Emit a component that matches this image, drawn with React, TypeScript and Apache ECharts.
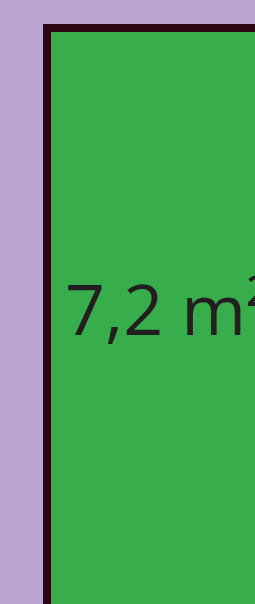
import React, { useEffect, useRef } from "react";
import * as echarts from "echarts";

const rooms: string[] = ["7,2 m²"];
const areas: number[] = [7.2];

export default function App() {
  const ref = useRef<HTMLDivElement>(null);
  useEffect(() => {
    if (!ref.current) return;
    const chart = echarts.init(ref.current, null, { renderer: "svg" });
    chart.setOption({
      animation: false,
      backgroundColor: "#b9a5cf",
      series: [
        {
          type: "treemap",
          left: 43,
          top: 24,
          width: 250,
          height: 700,
          roam: false,
          nodeClick: false,
          breadcrumb: { show: false },
          levels: [{ itemStyle: { borderWidth: 0, gapWidth: 0 } }],
          data: rooms.map((name, i) => ({
            name,
            value: areas[i],
            itemStyle: { color: "#38ad4b", borderColor: "#2a0612", borderWidth: 8, gapWidth: 0 },
            label: {
              show: true,
              formatter: "{b}",
              position: [9, 276],
              verticalAlign: "middle",
              align: "left",
              fontSize: 70,
              lineHeight: 70,
              fontFamily: "Open Sans",
              color: "#231f20",
              overflow: "none",
            },
          })),
        },
      ],
    });
    return () => chart.dispose();
  }, []);
  return (
    <div
      ref={ref}
      style={{ position: "absolute", left: 0, top: 0, width: 255, height: 604 }}
    />
  );
}
